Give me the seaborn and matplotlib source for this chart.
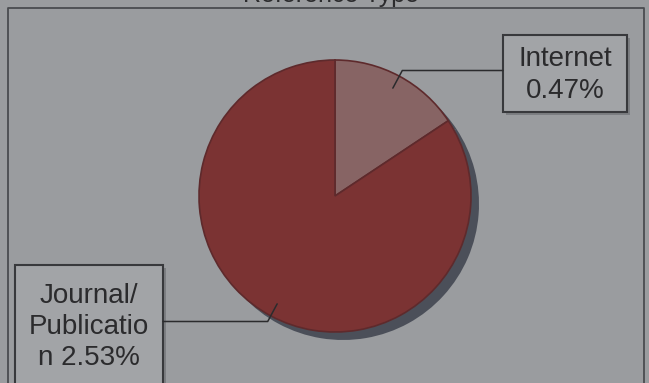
import numpy as np
import matplotlib
matplotlib.use("Agg")
import matplotlib.pyplot as plt
from matplotlib.patches import Rectangle
import seaborn as sns

# Share of references by type (percent)
categories = ["Internet", "Journal/\nPublicatio\nn"]
shares = [0.47, 2.53]
label_texts = ["Internet\n0.47%", "Journal/\nPublicatio\nn 2.53%"]
title = "Reference Type"

sns.set_style("white")
plt.rcParams["font.family"] = ["Liberation Sans", "DejaVu Sans"]

W, H = 649, 383
bg = "#9a9c9f"
slice_colors = ["#876464", "#7b3333"]
shadow_color = "#4b4f59"
ink = "#2b2b2d"

fig = plt.figure(figsize=(W / 100, H / 100), dpi=100, facecolor=bg)
ax = fig.add_axes([0, 0, 1, 1])
ax.set_facecolor(bg)

def py(y):
    # pixel row (from top) -> data y
    return H - y

cx, cy, r = 335, py(196), 136

# drop shadow under the pie
ax.pie(shares, colors=[shadow_color] * len(shares), startangle=90,
       counterclock=False, radius=r, center=(cx + 8, cy - 8),
       wedgeprops=dict(linewidth=0), frame=True)
wedges, _ = ax.pie(shares, colors=slice_colors, startangle=90,
                   counterclock=False, radius=r, center=(cx, cy),
                   wedgeprops=dict(linewidth=1.2, edgecolor="#5e2a2c"),
                   frame=True)
ax.set_xlim(0, W)
ax.set_ylim(0, H)
ax.set_aspect("equal")
ax.axis("off")

# plot-area border
ax.plot([8, 8, 644, 644], [0, py(8), py(8), 0], color="#4a4c50", lw=1.3)

# label boxes: (left, top, right, bottom) in pixels, text centre
boxes = [
    dict(rect=(503, 35, 627, 112), tx=565, ty=75, side="right"),
    dict(rect=(15, 265, 163, 395), tx=89, ty=327, side="left"),
]

for w, txt, b in zip(wedges, label_texts, boxes):
    l, t, rgt, btm = b["rect"]
    # box shadow
    ax.add_patch(Rectangle((l + 3, py(btm) - 3), rgt - l, btm - t,
                           facecolor="#7c7e82", edgecolor="none", zorder=3))
    ax.add_patch(Rectangle((l, py(btm)), rgt - l, btm - t,
                           facecolor="#a2a4a7", edgecolor="#38393c",
                           lw=1.5, zorder=4))
    ax.text(b["tx"], py(b["ty"]), txt, ha="center", va="center",
            fontsize=20, color=ink, linespacing=1.25, zorder=5)

    # leader line from inside the wedge to the box
    mid = np.deg2rad((w.theta1 + w.theta2) / 2)
    ux, uy = np.cos(mid), np.sin(mid)
    ax0, ay0 = cx + 0.9 * r * ux, cy + 0.9 * r * uy
    ex, ey = ax0 + 20 * ux, ay0 + 20 * uy
    bx = l if b["side"] == "right" else rgt
    ax.plot([ax0, ex, bx], [ay0, ey, ey], color=ink, lw=1.1, zorder=6)

fig.text(331 / W, 1 - 2 / H, title, ha="center", va="baseline",
         fontsize=18, color=ink)

fig.savefig("out.png", dpi=100, facecolor=bg)
